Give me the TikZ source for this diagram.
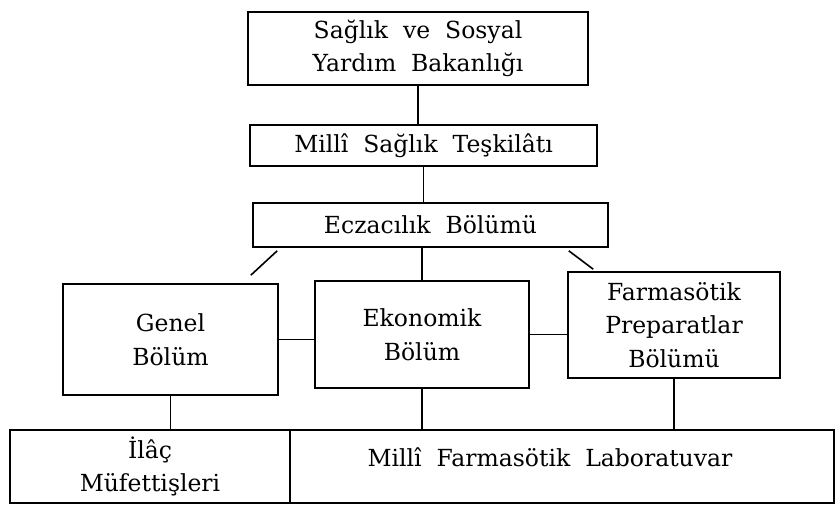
\documentclass[tikz,border=0pt]{standalone}
\usepackage{fontspec}
\setmainfont{DejaVu Serif}
\usetikzlibrary{calc}
\begin{document}
\begin{tikzpicture}[x=1pt,y=-1pt,
  txt/.style={inner sep=0pt,align=center,font=\fontsize{23.5}{33.5}\selectfont},
  box/.style={txt,draw,line width=1.6pt},
  link/.style={line width=1.6pt}]
\useasboundingbox[fill=white] (0,0) rectangle (837,513);
\node[box,minimum width=340pt,minimum height=73pt] (top) at (418,48.5) {Sağlık\ \ ve\ \ Sosyal\\Yardım\ \ Bakanlığı};
\node[box,minimum width=347pt,minimum height=41pt] (mst) at (423.5,145.5) {Millî\ \ Sağlık\ \ Teşkilâtı};
\node[box,minimum width=355pt,minimum height=44pt] (ecz) at (430.5,225) {Eczacılık\ \ Bölümü};
\node[box,minimum width=215pt,minimum height=111pt] (gen) at (170.5,339.5) {Genel\\Bölüm};
\node[box,minimum width=214pt,minimum height=107pt] (eko) at (422,334.5) {Ekonomik\\Bölüm};
\node[box,minimum width=212pt,minimum height=106pt] (far) at (674,325) {Farmasötik\\Preparatlar\\Bölümü};
\node[box,minimum width=280pt,minimum height=73pt] (ilac) at (150,466.5) {İlâç\\Müfettişleri};
\node[box,minimum width=544pt,minimum height=73pt] (lab) at (562,466.5) {};
\node[txt] (labt) at ($(lab.center)+(-12,-9)$) {Millî\ \ Farmasötik\ \ Laboratuvar};
\draw[link] (top.south) -- (top.south |- mst.north);
\draw[link] (mst.south) -- (mst.south |- ecz.north);
\draw[link] ($(ecz.south west)+(25,3)$) -- ($(gen.north east)+(-28,-8)$);
\draw[link] (ecz.south -| eko.north) -- (eko.north);
\draw[link] ($(ecz.south east)+(-40,3)$) -- ($(far.north west)+(26,-2)$);
\draw[link] (gen.east) -- (gen.east -| eko.west);
\draw[link] (eko.east) -- (eko.east -| far.west);
\draw[link] (gen.south) -- (gen.south |- ilac.north);
\draw[link] (eko.south) -- (eko.south |- lab.north);
\draw[link] (far.south) -- (far.south |- lab.north);
\end{tikzpicture}
\end{document}
